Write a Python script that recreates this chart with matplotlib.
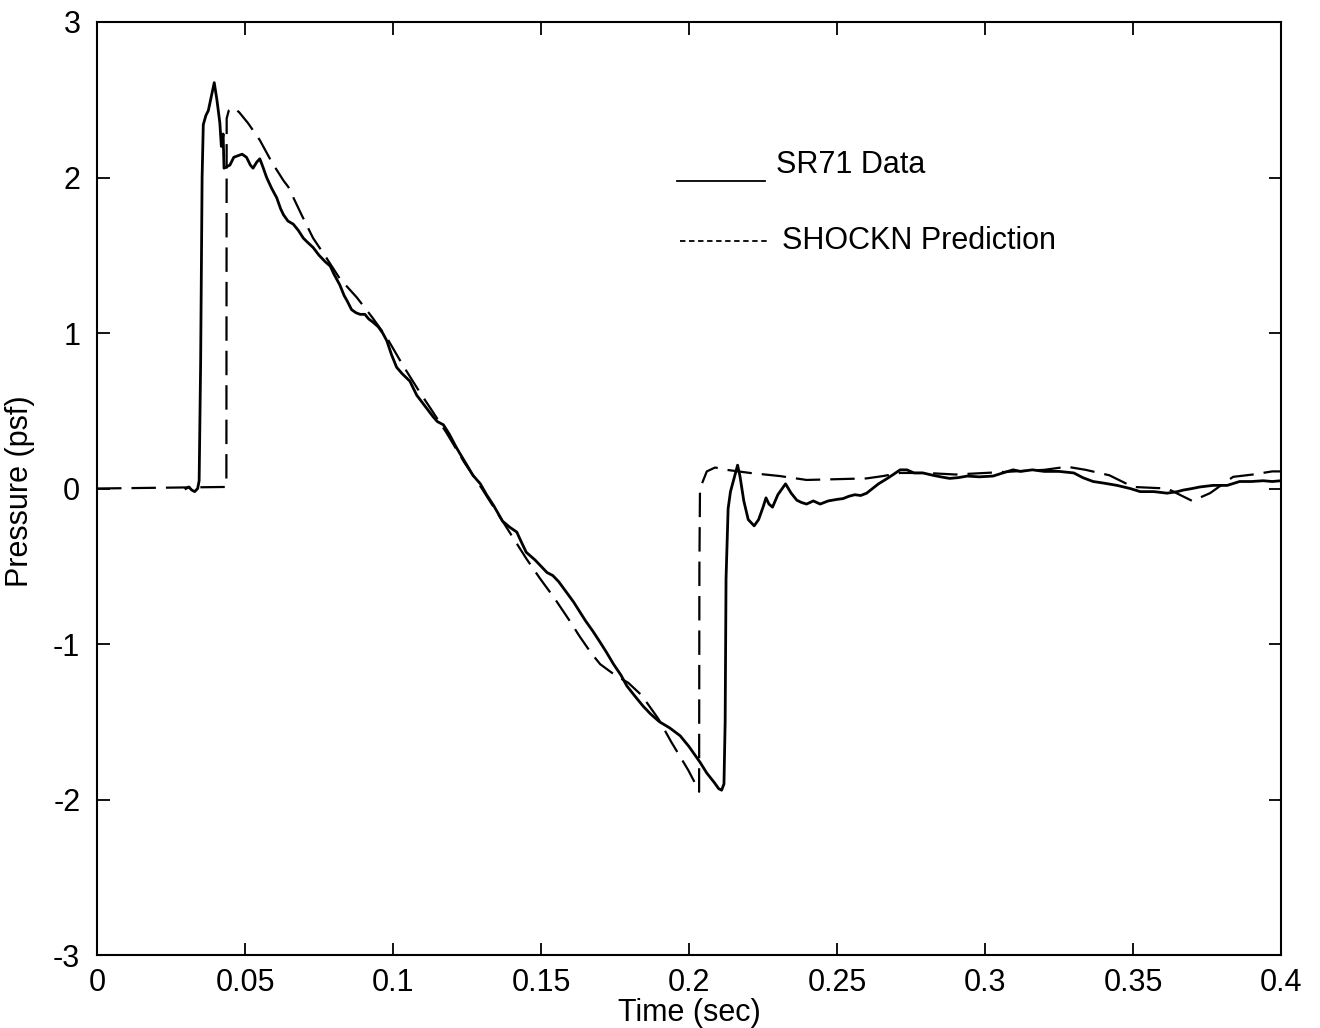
import matplotlib
matplotlib.use("Agg")
import matplotlib.pyplot as plt
from matplotlib.lines import Line2D

plt.rcParams["font.family"] = ["Liberation Sans", "DejaVu Sans"]
plt.rcParams["axes.unicode_minus"] = False

# Measured overpressure signature (SR71 flight data)
data_t = [0.030, 0.031, 0.032, 0.033, 0.034, 0.0345, 0.035, 0.0355, 0.0359, 0.0368,
          0.0376, 0.0386, 0.0396, 0.0405, 0.0415, 0.0420, 0.0426, 0.0429, 0.0449, 0.0462,
          0.0476, 0.0490, 0.0505, 0.0518, 0.0527, 0.0540, 0.0550, 0.0560, 0.0573, 0.0590,
          0.0607, 0.0620, 0.0630, 0.0645, 0.0663, 0.0680, 0.0697, 0.0713, 0.0730, 0.0750,
          0.0770, 0.0788, 0.0800, 0.0820, 0.0835, 0.0844, 0.0860, 0.0875, 0.0889, 0.0905,
          0.0918, 0.0932, 0.0950, 0.0965, 0.0979, 0.0995, 0.1012, 0.1030, 0.1057, 0.1080,
          0.1100, 0.1136, 0.1150, 0.1170, 0.1190, 0.1215, 0.1240, 0.1270, 0.1295, 0.1316,
          0.1340, 0.1370, 0.1395, 0.1418, 0.1435, 0.1450, 0.1480, 0.1500, 0.1520, 0.1540,
          0.1560, 0.1587, 0.1610, 0.1630, 0.1650, 0.1676, 0.1700, 0.1720, 0.1745, 0.1770,
          0.1790, 0.1815, 0.1845, 0.1870, 0.1900, 0.1935, 0.1970, 0.2000, 0.2037, 0.2060,
          0.2085, 0.2100, 0.2110, 0.2118, 0.2122, 0.2125, 0.2132, 0.2140, 0.2149, 0.2157,
          0.2164, 0.2172, 0.2185, 0.2200, 0.2220, 0.2235, 0.2250, 0.2260, 0.2270, 0.2282,
          0.2300, 0.2326, 0.2345, 0.2364, 0.2380, 0.2397, 0.2420, 0.2443, 0.2470, 0.2500,
          0.2520, 0.2540, 0.2560, 0.2580, 0.2600, 0.2620, 0.2640, 0.2670, 0.2690, 0.2713,
          0.2736, 0.2760, 0.2790, 0.2824, 0.2850, 0.2880, 0.2910, 0.2940, 0.2980, 0.3027,
          0.3060, 0.3095, 0.3120, 0.3160, 0.3200, 0.3250, 0.3300, 0.3330, 0.3365, 0.3400,
          0.3446, 0.3490, 0.3524, 0.3570, 0.3615, 0.3650, 0.3670, 0.3700, 0.3726, 0.3770,
          0.3818, 0.3860, 0.3900, 0.3940, 0.3970, 0.4000]
data_p = [0.00, 0.01, -0.01, -0.02, 0.00, 0.05, 0.80, 2.00, 2.34, 2.40,
          2.43, 2.52, 2.61, 2.50, 2.35, 2.20, 2.28, 2.06, 2.08, 2.13,
          2.14, 2.15, 2.13, 2.08, 2.06, 2.10, 2.12, 2.07, 2.00, 1.93,
          1.87, 1.80, 1.76, 1.72, 1.70, 1.66, 1.61, 1.58, 1.55, 1.50,
          1.46, 1.43, 1.38, 1.31, 1.24, 1.21, 1.15, 1.13, 1.12, 1.12,
          1.09, 1.07, 1.04, 1.00, 0.95, 0.86, 0.78, 0.74, 0.69, 0.60,
          0.55, 0.46, 0.43, 0.41, 0.35, 0.26, 0.18, 0.085, 0.03, -0.04,
          -0.11, -0.21, -0.25, -0.28, -0.35, -0.41, -0.46, -0.50, -0.54, -0.56,
          -0.60, -0.67, -0.73, -0.79, -0.85, -0.92, -0.99, -1.05, -1.13, -1.20,
          -1.27, -1.33, -1.40, -1.45, -1.50, -1.54, -1.59, -1.66, -1.76, -1.83,
          -1.89, -1.93, -1.94, -1.90, -1.50, -0.58, -0.13, -0.02, 0.045, 0.10,
          0.15, 0.08, -0.08, -0.20, -0.24, -0.20, -0.12, -0.06, -0.10, -0.12,
          -0.04, 0.03, -0.03, -0.075, -0.09, -0.10, -0.08, -0.10, -0.08, -0.07,
          -0.065, -0.05, -0.04, -0.045, -0.03, 0.00, 0.03, 0.065, 0.09, 0.12,
          0.12, 0.10, 0.10, 0.085, 0.075, 0.065, 0.07, 0.08, 0.075, 0.08,
          0.10, 0.12, 0.11, 0.12, 0.11, 0.11, 0.10, 0.07, 0.045, 0.035,
          0.02, 0.00, -0.02, -0.02, -0.03, -0.02, -0.01, 0.00, 0.01, 0.02,
          0.02, 0.045, 0.045, 0.05, 0.045, 0.05]

# SHOCKN predicted signature
pred_t = [0.0, 0.0437, 0.0438, 0.0445, 0.0460, 0.0480, 0.0510, 0.0550, 0.0590, 0.0630,
          0.0646, 0.0691, 0.0730, 0.0776, 0.0820, 0.0877, 0.0930, 0.0979, 0.1034, 0.1090,
          0.1125, 0.1180, 0.1240, 0.1300, 0.1350, 0.1400, 0.1450, 0.1497, 0.1547, 0.1600,
          0.1630, 0.1670, 0.1700, 0.1750, 0.1795, 0.1840, 0.1896, 0.1940, 0.1997, 0.2030,
          0.2034, 0.2035, 0.2037, 0.2060, 0.2088, 0.2127, 0.2206, 0.2307, 0.2397, 0.2500,
          0.2600, 0.2655, 0.2713, 0.2800, 0.2900, 0.3000, 0.3100, 0.3200, 0.3277, 0.3340,
          0.3420, 0.3500, 0.3615, 0.3700, 0.3760, 0.3838, 0.3905, 0.3970, 0.4000]
pred_p = [0.0, 0.01, 2.38, 2.43, 2.45, 2.42, 2.35, 2.24, 2.10, 1.98,
          1.94, 1.76, 1.61, 1.48, 1.35, 1.23, 1.10, 0.97, 0.79, 0.62,
          0.52, 0.36, 0.17, 0.00, -0.15, -0.30, -0.45, -0.58, -0.71, -0.86,
          -0.95, -1.06, -1.13, -1.20, -1.25, -1.33, -1.48, -1.63, -1.81, -1.93,
          -1.95, -0.50, 0.00, 0.11, 0.135, 0.12, 0.10, 0.08, 0.055, 0.06,
          0.065, 0.08, 0.10, 0.10, 0.09, 0.10, 0.11, 0.12, 0.14, 0.12,
          0.085, 0.01, 0.00, -0.08, -0.03, 0.075, 0.09, 0.11, 0.11]

x_ticks = [0, 0.05, 0.1, 0.15, 0.2, 0.25, 0.3, 0.35, 0.4]
x_tick_labels = ["0", "0.05", "0.1", "0.15", "0.2", "0.25", "0.3", "0.35", "0.4"]
y_ticks = [-3, -2, -1, 0, 1, 2, 3]
y_tick_labels = ["-3", "-2", "-1", "0", "1", "2", "3"]

fig = plt.figure(figsize=(13.2, 10.28), dpi=100)
ax = fig.add_axes([0.0735, 0.071, 0.897, 0.9076])

ax.plot(data_t, data_p, color="black", lw=2.0, solid_joinstyle="round")
ax.plot(pred_t, pred_p, color="black", lw=1.6, dashes=(11, 4.5))

ax.set_xlim(0, 0.4)
ax.set_ylim(-3, 3)
ax.set_xticks(x_ticks)
ax.set_xticklabels(x_tick_labels)
ax.set_yticks(y_ticks)
ax.set_yticklabels(y_tick_labels)
ax.tick_params(direction="in", length=9, width=1.3, top=True, right=True,
               labelsize=22, colors="black")
ax.tick_params(axis="x", pad=9.5)
ax.tick_params(axis="y", pad=12)
for s in ax.spines.values():
    s.set_linewidth(1.5)

ax.set_xlabel("Time (sec)", fontsize=22)
ax.set_ylabel("Pressure (psf)", fontsize=22)
ax.xaxis.set_label_coords(0.5, -0.046)
ax.yaxis.set_label_coords(-0.052, 0.497)

# Hand-placed key
ax.add_line(Line2D([0.196, 0.2257], [1.98, 1.98], color="black", lw=1.3))
ax.text(0.2294, 2.08, "SR71 Data", fontsize=22, va="center", ha="left")
ax.add_line(Line2D([0.197, 0.2274], [1.59, 1.59], color="black", lw=1.3,
                   dashes=(3, 2)))
ax.text(0.2314, 1.59, "SHOCKN Prediction", fontsize=22, va="center", ha="left")

fig.savefig("out.png", dpi=100)
